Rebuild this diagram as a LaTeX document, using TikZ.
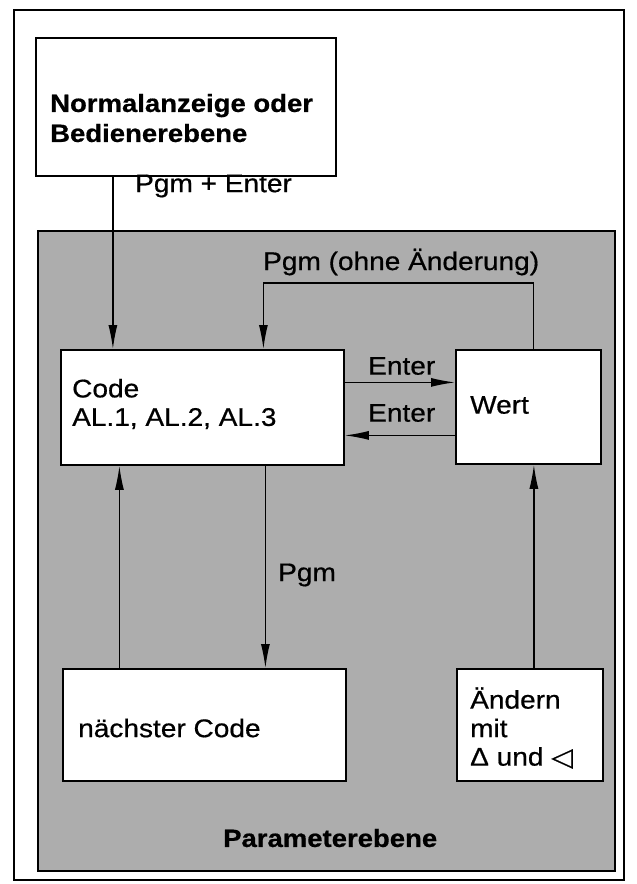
\documentclass[tikz,border=0pt]{standalone}
\usepackage{fontspec}
\setmainfont[FakeStretch=1.1,FakeBold=0.6]{Liberation Sans}
\newfontfamily\symfont[FakeStretch=1.1,FakeBold=0.6]{DejaVu Sans}
\usetikzlibrary{arrows.meta,calc}
\begin{document}
\begin{tikzpicture}[x=1pt,y=-1pt,
 box/.style={draw, line width=1.8pt, fill=white, anchor=north west, inner sep=0pt},
 txt/.style={anchor=west, align=left, inner sep=0pt, font=\fontsize{25.5}{28.5}\selectfont},
 btxt/.style={anchor=west, align=left, inner sep=0pt, font=\fontsize{25}{30}\selectfont\bfseries},
 arr/.style={line width=1.3pt, -{Latex[length=24pt,width=9pt]}}]
\useasboundingbox (0,0) rectangle (637,884);
\draw[line width=2pt] (14,10) rectangle (624,880);
\node[draw, line width=1.6pt, fill=black!32, anchor=north west, minimum width=577pt, minimum height=640pt, inner sep=0pt] (param) at (37,230) {};
% boxes
\node[box, minimum width=300pt, minimum height=138pt] (top) at (35,37) {};
\node[box, minimum width=283pt, minimum height=115pt] (code) at (60,349) {};
\node[box, minimum width=145pt, minimum height=114pt] (wert) at (455,349) {};
\node[box, minimum width=283pt, minimum height=112pt] (next) at (62,668) {};
\node[box, minimum width=146pt, minimum height=112pt] (aend) at (456,668) {};
% texts
\node[btxt] (toptxt) at (50,118) {Normalanzeige oder\\Bedienerebene};
\node[txt] (codetxt) at (72,404) {Code\\AL.1, AL.2, AL.3};
\node[txt] (werttxt) at (470,405) {Wert};
\node[txt] (nexttxt) at (78,728) {nächster Code};
\node[txt] (aendtxt) at (470,728) {Ändern\\mit\\Δ und {\symfont ◁}};
\node[btxt] (paramtxt) at (223,838) {Parameterebene};
% connectors
\draw[arr] ([xshift=-73pt]top.south) -- ([xshift=-73pt]top.south |- code.north);
\draw[arr] ([yshift=25pt]code.east) -- ([yshift=25pt]code.east -| wert.west);
\draw[arr] ([yshift=-28pt]code.east -| wert.west) -- ([yshift=-28pt]code.east);
\draw[arr] ([xshift=5pt]wert.north) -- ++(0,-66) -| ([xshift=61pt]code.north);
\draw[arr] ([xshift=63pt]code.south) -- ([xshift=63pt]code.south |- next.north);
\draw[arr] ([xshift=-85pt]next.north) -- ([xshift=-85pt]next.north |- code.south);
\draw[arr] ([xshift=4pt]aend.north) -- ([xshift=4pt]aend.north |- wert.south);
% labels
\node[txt] (lpe) at (135,186) {Pgm + Enter};
\node[txt] (lpo) at (263,262) {Pgm (ohne Änderung)};
\node[txt] (le1) at (368,366) {Enter};
\node[txt] (le2) at (368,413) {Enter};
\node[txt] (lpg) at (278,575) {Pgm};
\end{tikzpicture}
\end{document}
